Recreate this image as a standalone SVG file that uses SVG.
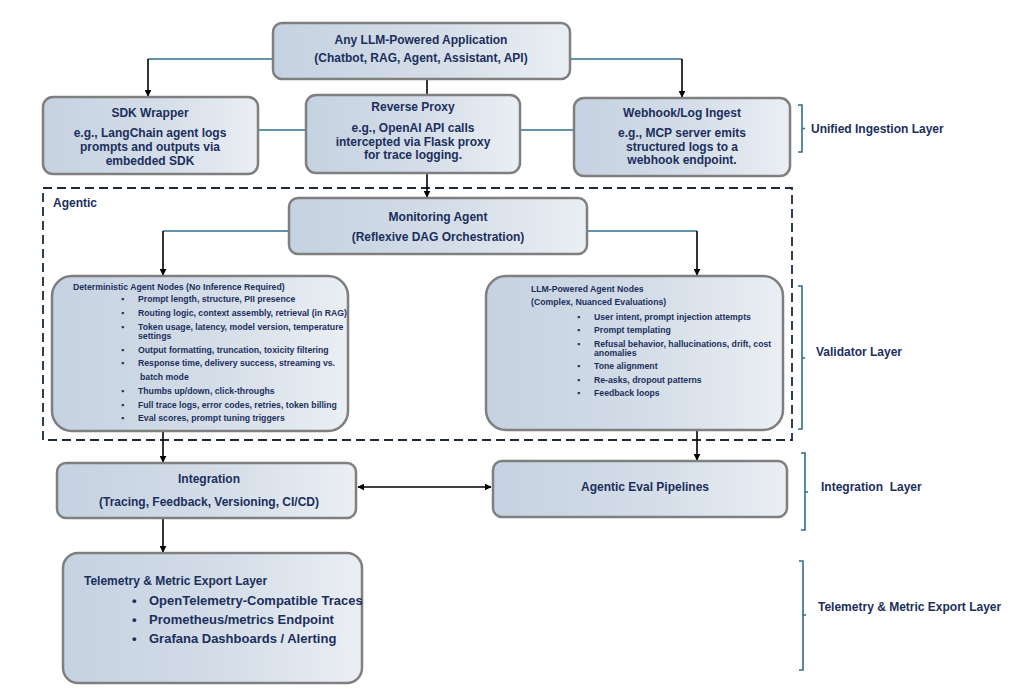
<svg xmlns="http://www.w3.org/2000/svg" width="1024" height="696" viewBox="0 0 1024 696">
<defs>
<linearGradient id="g" x1="0" y1="0" x2="1" y2="0">
<stop offset="0" stop-color="#c5d2e1"/>
<stop offset="0.55" stop-color="#d4dde8"/>
<stop offset="1" stop-color="#ebeff4"/>
</linearGradient>
<marker id="ah" viewBox="0 0 10 10" refX="9" refY="5" markerWidth="7" markerHeight="7" markerUnits="userSpaceOnUse" orient="auto-start-reverse">
<path d="M0,0 L10,5 L0,10 z" fill="#000"/>
</marker>
<style>
.box{fill:url(#g);stroke:#7f7f7f;stroke-width:2.5}
text{font-family:"Liberation Sans",Arial,sans-serif;font-weight:bold;fill:#1b2f5c}
.t12{font-size:12px}
.c{text-anchor:middle}
.s{font-size:8.7px}
.t13{font-size:13px}
.blue{fill:none;stroke:#2f6f8f;stroke-width:1.6}
.blk{fill:none;stroke:#000;stroke-width:1.6}
.arr{marker-end:url(#ah)}
.br{fill:none;stroke:#2f6f8f;stroke-width:1.6}
.dash{fill:none;stroke:#1c2b3a;stroke-width:1.8;stroke-dasharray:9 5}
</style>
</defs>
<rect width="1024" height="696" fill="#fff"/>

<g id="agentic-frame">
<rect class="dash" x="43" y="188" width="749" height="252"/>
<text x="53" y="207" style="font-size:12px">Agentic</text>
</g>

<g id="connectors">
<path class="blue" d="M272,59 H148"/>
<path class="blk arr" d="M148,59 V96"/>
<path class="blue" d="M570,59 H682"/>
<path class="blk arr" d="M682,59 V97"/>
<path class="blk" d="M427,80 V95"/>
<path class="blue" d="M258,130 H306"/>
<path class="blue" d="M520,130 H574"/>
<path class="blk arr" d="M427,173 V197"/>
<path class="blue" d="M289,231 H163"/>
<path class="blk arr" d="M163,231 V275"/>
<path class="blue" d="M587,231 H697"/>
<path class="blk arr" d="M697,231 V275"/>
<path class="blk arr" d="M163,431 V462"/>
<path class="blk arr" d="M697,430 V460"/>
<path class="blk arr" d="M358,487 H491" marker-start="url(#ah)"/>
<path class="blk arr" d="M163,518 V552"/>
</g>

<g id="app">
<rect class="box" x="273" y="23" width="297" height="56" rx="9"/>
<text class="t12 c" x="421" y="44">Any LLM-Powered Application</text>
<text class="t12 c" x="421" y="62">(Chatbot, RAG, Agent, Assistant, API)</text>
</g>

<g id="sdk">
<rect class="box" x="43" y="97" width="215" height="77" rx="10"/>
<text class="t12 c" x="150" y="117">SDK Wrapper</text>
<text class="t12 c" x="150" y="137">e.g., LangChain agent logs</text>
<text class="t12 c" x="150" y="151">prompts and outputs via</text>
<text class="t12 c" x="150" y="165">embedded SDK</text>
</g>

<g id="proxy">
<rect class="box" x="306" y="95" width="214" height="78" rx="10"/>
<text class="t12 c" x="413" y="111">Reverse Proxy</text>
<text class="t12 c" x="413" y="132">e.g., OpenAI API calls</text>
<text class="t12 c" x="413" y="146">intercepted via Flask proxy</text>
<text class="t12 c" x="413" y="159">for trace logging.</text>
</g>

<g id="webhook">
<rect class="box" x="574" y="98" width="216" height="78" rx="10"/>
<text class="t12 c" x="682" y="117">Webhook/Log Ingest</text>
<text class="t12 c" x="682" y="137">e.g., MCP server emits</text>
<text class="t12 c" x="682" y="151">structured logs to a</text>
<text class="t12 c" x="682" y="164">webhook endpoint.</text>
</g>

<g id="monitoring">
<rect class="box" x="289" y="198" width="298" height="56" rx="9"/>
<text class="t12 c" x="438" y="221">Monitoring Agent</text>
<text class="t12 c" x="438" y="241">(Reflexive DAG Orchestration)</text>
</g>

<g id="deterministic">
<rect class="box" x="52" y="276" width="296" height="155" rx="20"/>
<text class="s" x="73" y="290">Deterministic Agent Nodes (No Inference Required)</text>
<text class="s" x="121" y="302">▪</text><text class="s" x="138" y="302">Prompt length, structure, PII presence</text>
<text class="s" x="121" y="316">▪</text><text class="s" x="138" y="316">Routing logic, context assembly, retrieval (in RAG)</text>
<text class="s" x="121" y="330">▪</text><text class="s" x="138" y="330">Token usage, latency, model version, temperature</text>
<text class="s" x="138" y="338.5">settings</text>
<text class="s" x="121" y="353">▪</text><text class="s" x="138" y="353">Output formatting, truncation, toxicity filtering</text>
<text class="s" x="121" y="366">▪</text><text class="s" x="138" y="366">Response time, delivery success, streaming vs.</text>
<text class="s" x="140" y="380">batch mode</text>
<text class="s" x="121" y="394">▪</text><text class="s" x="138" y="394">Thumbs up/down, click-throughs</text>
<text class="s" x="121" y="408">▪</text><text class="s" x="138" y="408">Full trace logs, error codes, retries, token billing</text>
<text class="s" x="121" y="421">▪</text><text class="s" x="138" y="421">Eval scores, prompt tuning triggers</text>
</g>

<g id="llm-nodes">
<rect class="box" x="486" y="276" width="297" height="154" rx="20"/>
<text class="s" x="531" y="292">LLM-Powered Agent Nodes</text>
<text class="s" x="531" y="305">(Complex, Nuanced Evaluations)</text>
<text class="s" x="577" y="320">▪</text><text class="s" x="594" y="320">User intent, prompt injection attempts</text>
<text class="s" x="577" y="333">▪</text><text class="s" x="594" y="333">Prompt templating</text>
<text class="s" x="577" y="347">▪</text><text class="s" x="594" y="347">Refusal behavior, hallucinations, drift, cost</text>
<text class="s" x="594" y="355.5">anomalies</text>
<text class="s" x="577" y="369">▪</text><text class="s" x="594" y="369">Tone alignment</text>
<text class="s" x="577" y="383">▪</text><text class="s" x="594" y="383">Re-asks, dropout patterns</text>
<text class="s" x="577" y="396">▪</text><text class="s" x="594" y="396">Feedback loops</text>
</g>

<g id="integration">
<rect class="box" x="57" y="463" width="299" height="55" rx="9"/>
<text class="t12 c" x="209" y="483">Integration</text>
<text class="t12 c" x="209" y="506">(Tracing, Feedback, Versioning, CI/CD)</text>
</g>

<g id="eval-pipelines">
<rect class="box" x="493" y="461" width="294" height="56" rx="9"/>
<text class="t12 c" x="645" y="491">Agentic Eval Pipelines</text>
</g>

<g id="telemetry">
<rect class="box" x="63" y="553" width="299" height="130" rx="15"/>
<text class="t12" x="84" y="585">Telemetry &amp; Metric Export Layer</text>
<text class="t13" x="132" y="605">•</text><text class="t13" x="149" y="605">OpenTelemetry-Compatible Traces</text>
<text class="t13" x="132" y="624">•</text><text class="t13" x="149" y="624">Prometheus/metrics Endpoint</text>
<text class="t13" x="132" y="643">•</text><text class="t13" x="149" y="643">Grafana Dashboards / Alerting</text>
</g>

<g id="layer-labels">
<path class="br" d="M798,105 H802 V152 H798 M802,128.5 H805"/>
<text class="t12" x="811" y="133">Unified Ingestion Layer</text>
<path class="br" d="M798,286 H802 V429 H798 M802,358 H805"/>
<text class="t12" x="816" y="356">Validator Layer</text>
<path class="br" d="M801,453 H805 V530 H801 M805,492 H808"/>
<text class="t12" x="821" y="491" xml:space="preserve">Integration  Layer</text>
<path class="br" d="M799,561 H803 V670 H799 M803,615 H806"/>
<text class="t12" x="818" y="611">Telemetry &amp; Metric Export Layer</text>
</g>
</svg>
